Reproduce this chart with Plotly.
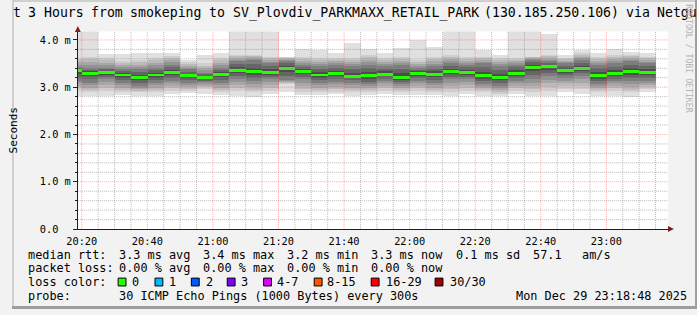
import plotly.graph_objects as go
from datetime import datetime, timedelta

W, H = 697, 315
DAY = "2025-12-29"

# ---------------- data ----------------
# end time of each 5-minute smoke step
step_end = ["20:20", "20:25", "20:30", "20:35", "20:40", "20:45", "20:50", "20:55", "21:00",
            "21:05", "21:10", "21:15", "21:20", "21:25", "21:30", "21:35", "21:40", "21:45",
            "21:50", "21:55", "22:00", "22:05", "22:10", "22:15", "22:20", "22:25", "22:30",
            "22:35", "22:40", "22:45", "22:50", "22:55", "23:00", "23:05", "23:10", "23:15"]

ping_max   = [4.30, 4.30, 3.70, 3.70, 3.72, 3.72, 3.71, 3.57, 3.68, 3.72, 4.30, 4.30,
              4.30, 3.64, 3.81, 3.78, 3.71, 3.92, 3.79, 3.71, 3.83, 3.99, 3.85, 4.30,
              4.30, 3.78, 3.68, 4.30, 4.30, 4.11, 3.68, 3.77, 3.72, 3.79, 3.74, 3.72]
upper_mid  = [3.61, 3.64, 3.61, 3.54, 3.57, 3.61, 3.66, 3.52, 3.50, 3.61, 3.68, 3.68,
              3.64, 3.62, 3.64, 3.61, 3.61, 3.61, 3.68, 3.61, 3.64, 3.57, 3.64, 3.68,
              3.64, 3.64, 3.61, 3.61, 3.64, 3.68, 3.61, 3.71, 3.64, 3.68, 3.68, 3.64]
upper_dark = [3.42, 3.40, 3.40, 3.37, 3.37, 3.40, 3.47, 3.37, 3.30, 3.40, 3.54, 3.57,
              3.50, 3.55, 3.47, 3.44, 3.47, 3.44, 3.47, 3.44, 3.47, 3.40, 3.44, 3.50,
              3.47, 3.50, 3.44, 3.47, 3.57, 3.54, 3.50, 3.57, 3.47, 3.50, 3.54, 3.50]
median_rtt = [3.34, 3.29, 3.30, 3.25, 3.19, 3.25, 3.31, 3.23, 3.19, 3.26, 3.35, 3.32,
              3.31, 3.385, 3.32, 3.25, 3.28, 3.22, 3.23, 3.27, 3.20, 3.29, 3.27, 3.32,
              3.30, 3.23, 3.19, 3.29, 3.41, 3.42, 3.34, 3.385, 3.23, 3.28, 3.32, 3.30]
lower_dark = [3.12, 3.09, 3.16, 3.09, 3.02, 3.08, 3.12, 3.09, 3.10, 3.09, 3.16, 3.12,
              3.16, 3.15, 3.16, 3.09, 3.10, 3.09, 3.05, 3.12, 3.05, 3.12, 3.09, 3.16,
              3.16, 3.06, 3.02, 3.12, 3.16, 3.23, 3.19, 3.23, 3.06, 3.12, 3.12, 3.12]
lower_mid  = [2.92, 2.88, 2.92, 2.88, 2.88, 2.88, 2.92, 2.92, 2.95, 2.88, 2.92, 2.88,
              2.92, 3.05, 2.88, 2.88, 2.90, 2.88, 2.88, 2.92, 2.88, 2.92, 2.88, 2.88,
              2.92, 2.88, 2.85, 2.92, 2.88, 2.92, 2.95, 2.95, 2.88, 2.92, 2.88, 2.95]
ping_min   = [2.81, 2.80, 2.80, 2.83, 2.80, 2.81, 2.85, 2.87, 2.85, 2.83, 2.81, 2.78,
              2.85, 2.90, 2.83, 2.83, 2.84, 2.81, 2.83, 2.85, 2.83, 2.83, 2.83, 2.81,
              2.85, 2.80, 2.80, 2.85, 2.81, 2.81, 2.88, 2.85, 2.81, 2.81, 2.78, 2.88]

y_tick_vals = [0, 1, 2, 3, 4]
y_tick_text = ["0.0\u00a0\u00a0", "1.0 m", "2.0 m", "3.0 m", "4.0 m"]

loss_labels = ["0", "1", "2", "3", "4-7", "8-15", "16-29", "30/30"]
loss_colors = ["#26ff00", "#00b8ff", "#0059ff", "#7e00ff", "#dd00ff", "#ff5500", "#ff0000", "#a00000"]

title_text = "t 3 Hours from smokeping to SV_Plovdiv_PARKMAXX_RETAIL_PARK (130.185.250.106) via Netgu"
row_rtt = ["median rtt:", "3.3 ms avg", "3.4 ms max", "3.2 ms min", "3.3 ms now",
           "0.1 ms sd", "57.1", "am/s"]
row_loss = ["packet loss:", "0.00 % avg", "0.00 % max", "0.00 % min", "0.00 % now"]
row_color = "loss color:"
row_probe = ["probe:", "30 ICMP Echo Pings (1000 Bytes) every 300s"]
stamp = "Mon Dec 29 23:18:48 2025"

# ---------------- helpers ----------------
def px(x):
    return x / W

def py(y):
    return 1 - y / H

def nb(s):
    return s.replace(" ", "\u00a0")

MONO = "DejaVu Sans Mono"
STEP = timedelta(minutes=5)
ends = [datetime.fromisoformat(f"{DAY} {t}:00") for t in step_end]
# a partial step before the first label, drawn the same as the first step
ends = [ends[0] - STEP] + ends
ext = lambda a: [a[0]] + list(a)
centers = [e - STEP / 2 for e in ends]
x_start = datetime.fromisoformat(f"{DAY} 20:18:48")
x_end = datetime.fromisoformat(f"{DAY} 23:18:48")
Y_MAX = 4.18

fig = go.Figure()

def add_band(lower, upper, color):
    lower, upper = ext(lower), ext(upper)
    fig.add_trace(go.Bar(
        x=centers, y=[u - l for l, u in zip(lower, upper)], base=lower,
        width=STEP.total_seconds() * 1000, marker=dict(color=color, line=dict(width=0)),
        hoverinfo="skip", showlegend=False))

add_band(ping_min, ping_max, "#e0e0e0")
mid_cols = ["#cecece", "#bbbbbb", "#a7a7a7", "#939393"]
for i, c in enumerate(mid_cols):
    f = i / len(mid_cols)
    up = [a + (b - a) * f for a, b in zip(upper_mid, upper_dark)]
    lo = [a + (b - a) * f for a, b in zip(lower_mid, lower_dark)]
    add_band(lo, up, c)
dark_cols = ["#7d7d7d", "#656565", "#4c4c4c"]
for i, c in enumerate(dark_cols):
    f = i / len(dark_cols)
    up = [a + (b - a) * f for a, b in zip(upper_dark, median_rtt)]
    lo = [a + (b - a) * f for a, b in zip(lower_dark, median_rtt)]
    add_band(lo, up, c)

half = 1.5 * Y_MAX / (233.5 - 32)
add_band([m - half for m in median_rtt], [m + half for m in median_rtt], loss_colors[0])

# ---------------- grid (drawn above the smoke, like rrdtool) ----------------
shapes = []
minor_col = "rgba(143,143,143,0.6)"
major_col = "rgba(222,79,79,0.45)"
for k in range(1, 21):
    v = k * 0.2
    major = (k % 5 == 0)
    shapes.append(dict(type="line", xref="x", yref="y", x0=x_start, x1=x_end, y0=v, y1=v,
                       line=dict(color=major_col if major else minor_col, width=1, dash="1px,1px"),
                       layer="above"))
t = datetime.fromisoformat(f"{DAY} 20:20:00")
while t < x_end:
    major = (t.minute % 20 == 0)
    shapes.append(dict(type="line", xref="x", yref="y", x0=t, x1=t, y0=0, y1=Y_MAX,
                       line=dict(color=major_col if major else minor_col, width=1, dash="1px,1px"),
                       layer="above"))
    t += STEP

arrow_col = "#801f1f"
shapes.append(dict(type="path", xref="paper", yref="paper",
                   path=f"M {px(64)} {py(32.5)} L {px(70)} {py(32.5)} L {px(67)} {py(26.5)} Z",
                   fillcolor=arrow_col, line=dict(width=0), layer="above"))
shapes.append(dict(type="path", xref="paper", yref="paper",
                   path=f"M {px(667.5)} {py(230.5)} L {px(667.5)} {py(236.5)} L {px(673.5)} {py(233.5)} Z",
                   fillcolor=arrow_col, line=dict(width=0), layer="above"))
shapes += [
    dict(type="rect", xref="paper", yref="paper", x0=0, x1=px(2), y0=0, y1=1,
         fillcolor="#cfcfcf", line=dict(width=0)),
    dict(type="rect", xref="paper", yref="paper", x0=0, x1=1, y0=py(2), y1=1,
         fillcolor="#cfcfcf", line=dict(width=0)),
    dict(type="rect", xref="paper", yref="paper", x0=px(695), x1=1, y0=0, y1=1,
         fillcolor="#9e9e9e", line=dict(width=0)),
    dict(type="rect", xref="paper", yref="paper", x0=0, x1=1, y0=0, y1=py(312),
         fillcolor="#9e9e9e", line=dict(width=0)),
]

annotations = []

def txt(x, y, s, size, anchor="left", color="#000", angle=0, family=MONO):
    annotations.append(dict(xref="paper", yref="paper", x=px(x), y=py(y), text=nb(s),
                            showarrow=False, xanchor=anchor, yanchor="middle", textangle=angle,
                            borderpad=0, font=dict(family=family, size=size, color=color)))

LEG = 11.85
box_left = [108, 145.5, 182.5, 219, 256, 307.5, 365.5, 430.5]
label_left = [121.5, 159, 196, 232.5, 268.5, 320, 380, 444.5]
for bx, lx, lab, col in zip(box_left, label_left, loss_labels, loss_colors):
    shapes.append(dict(type="rect", xref="paper", yref="paper",
                       x0=px(bx), x1=px(bx + 8), y0=py(291.5), y1=py(283.5),
                       fillcolor=col, line=dict(color="#000000", width=1)))
    txt(lx, 287.5, lab, LEG)

# title: each word at its monospace cell (8.0 px per character in the reference)
TS = 13.2
CELL = 8.0
pos = 0
for word in title_text.split(" "):
    txt(pos * CELL - 0.5, 13, word, TS)
    pos += len(word) + 1

for x, s in zip([15, 107.5, 193, 279, 364.5, 450.5, 529.5, 579], row_rtt):
    txt(x, 259.5, s, LEG)
for x, s in zip([15, 107.5, 193, 279, 364.5], row_loss):
    txt(x, 273.5, s, LEG)
txt(15, 287.5, row_color, LEG)
for x, s in zip([15, 107.5], row_probe):
    txt(x, 301.5, s, LEG)
txt(512, 301.5, stamp, LEG)
txt(2, 133, "Seconds", 11, anchor="center", angle=-90)
txt(688.5, 60, "RRDTOOL / TOBI OETIKER", 8.2, anchor="center", color="#b4b4b4", angle=90)

fig.update_layout(
    width=W, height=H, margin=dict(l=0, r=0, t=0, b=0, pad=0),
    paper_bgcolor="#f2f2f2", plot_bgcolor="#ffffff",
    barmode="overlay", bargap=0, showlegend=False,
    shapes=shapes, annotations=annotations,
    xaxis=dict(type="date", domain=[px(67), px(667.5)], range=[x_start, x_end],
               tick0=f"{DAY} 20:20:00", dtick=20 * 60 * 1000, tickformat="%H:%M",
               showgrid=False, zeroline=False, showline=True, linecolor="#1f1f1f", linewidth=1,
               ticks="", ticklabelstandoff=3, tickfont=dict(family=MONO, size=10.3, color="#000"),
               fixedrange=True),
    yaxis=dict(domain=[py(233.5), py(32)], range=[0, Y_MAX],
               tickvals=y_tick_vals, ticktext=y_tick_text,
               showgrid=False, zeroline=False, showline=True, linecolor="#1f1f1f", linewidth=1,
               ticks="outside", ticklen=4, tickcolor="#1f1f1f",
               minor=dict(dtick=0.2, tick0=0, ticks="outside", ticklen=2, tickcolor="#1f1f1f", showgrid=False),
               tickfont=dict(family=MONO, size=10.3, color="#000"),
               fixedrange=True),
)

fig.write_html("out.html")
